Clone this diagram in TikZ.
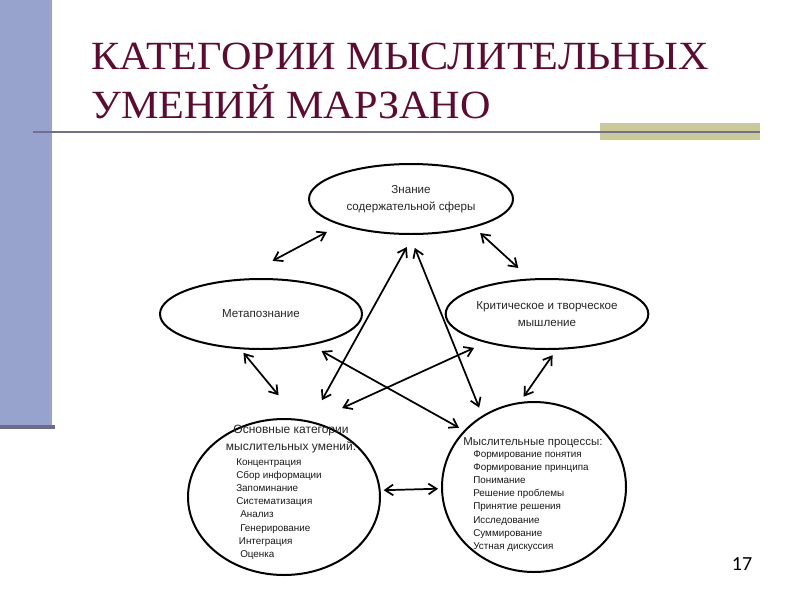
\documentclass[tikz,border=0pt]{standalone}
\usepackage{graphicx}
\usepackage{fontspec}
\setmainfont{Liberation Serif}
\newfontfamily\sansfont{Liberation Sans}
\newfontfamily\numfont{Carlito}
\usetikzlibrary{arrows.meta,positioning,shapes.geometric}
\definecolor{barcolor}{RGB}{152,163,205}
\definecolor{barshade}{RGB}{108,108,140}
\definecolor{rulecolor}{RGB}{112,112,142}
\definecolor{olivecolor}{RGB}{202,202,152}
\definecolor{titlecolor}{RGB}{92,12,48}
\newcommand{\widetitle}[1]{\scalebox{1.055}[1]{#1}}

\begin{document}
\begin{tikzpicture}[x=0.75pt, y=-0.75pt,
    bubble/.style={ellipse, draw, line width=1.5pt, inner sep=0pt, outer sep=0pt, align=center, text=black!85, font=\sansfont\fontsize{8.7}{13}\selectfont},
    ring/.style={ellipse, draw, line width=1.5pt, inner sep=0pt, outer sep=0pt},
    head/.style={inner sep=0pt, align=center, text=black!85, font=\sansfont\fontsize{9}{12.75}\selectfont},
    items/.style={inner sep=0pt, align=left, text=black!90, font=\sansfont\fontsize{7.4}{9.8}\selectfont},
    heading/.style={inner sep=0pt, text=titlecolor, font=\fontsize{30}{36}\selectfont},
    link/.style={<->, >={Straight Barb[length=6pt,width=8pt]}, line width=1.3pt}
]
    \useasboundingbox[fill=white] (0,0) rectangle (800,600);

    % slide decoration
    \fill[barcolor] (0,0) rectangle (52,425);
    \fill[barshade] (0,425) rectangle (55,429);
    \fill[olivecolor] (600,123) rectangle (760,140);
    \draw[rulecolor, line width=2.2pt] (33,132) -- (760,132);

    \node[heading, anchor=base west] (title) at (91,69.5) {\widetitle{КАТЕГОРИИ МЫСЛИТЕЛЬНЫХ}};
    \node[heading, anchor=base west] (title2) at (91,118) {\widetitle{УМЕНИЙ МАРЗАНО}};

    % five categories
    \node[bubble, minimum width=153pt, minimum height=52.5pt] (top) at (411,199) {Знание\\содержательной сферы};
    \node[bubble, minimum width=151.5pt, minimum height=52.5pt] (meta) at (261,314) {Метапознание};
    \node[bubble, minimum width=152pt, minimum height=52.5pt] (crit) at (547,314) {Критическое и творческое\\мышление};
    \node[ring, minimum width=144pt, minimum height=117pt] (base) at (284,497) {};
    \node[ring, minimum width=138pt, minimum height=127.5pt] (proc) at (534,487) {};

    \node[head] (basehead) at (291,439.5) {Основные категории\\мыслительных умений:};
    \node[items, anchor=west] (baselist) at (236,509) {Концентрация\\Сбор информации\\Запоминание\\Систематизация\\
        \hspace*{3pt}Анализ\\\hspace*{3pt}Генерирование\\\hspace*{2pt}Интеграция\\\hspace*{3pt}Оценка};
    \node[head, anchor=west, font=\sansfont\fontsize{8.6}{12}\selectfont] (prochead) at (463,442.5) {Мыслительные процессы:};
    \node[items, anchor=west] (proclist) at (473,501) {Формирование понятия\\Формирование принципа\\Понимание\\Решение проблемы\\
        Принятие решения\\Исследование\\Суммирование\\Устная дискуссия};

    \node[inner sep=0pt, font=\numfont\fontsize{15}{18}\selectfont] (pagenum) at (742,564) {17};

    % links
    \draw[link, shorten <=12pt, shorten >=30.75pt] (top.200) -- (meta.126.6);
    \draw[link, shorten <=7pt, shorten >=12.75pt] (top.336) -- (crit.115.6);
    \draw[link, shorten <=4.5pt, shorten >=24pt] (meta.238.8) -- (base.79.6);
    \draw[link, shorten <=5.8pt, shorten >=5.85pt] (crit.286.9) -- (proc.100.6);
    \draw[link, shorten <=11.2pt, shorten >=18.6pt] (top.275.4) -- (base.71.8);
    \draw[link, shorten <=11.25pt, shorten >=7.1pt] (top.267.7) -- (proc.126.9);
    \draw[link, shorten <=9.9pt, shorten >=5pt] (meta.328.4) -- (proc.141.6);
    \draw[link, shorten <=10.4pt, shorten >=25.5pt] (crit.205.5) -- (base.70.9);
    \draw[link, shorten <=3pt, shorten >=3pt] (base.4.2) -- (proc.181.8);
\end{tikzpicture}
\end{document}
